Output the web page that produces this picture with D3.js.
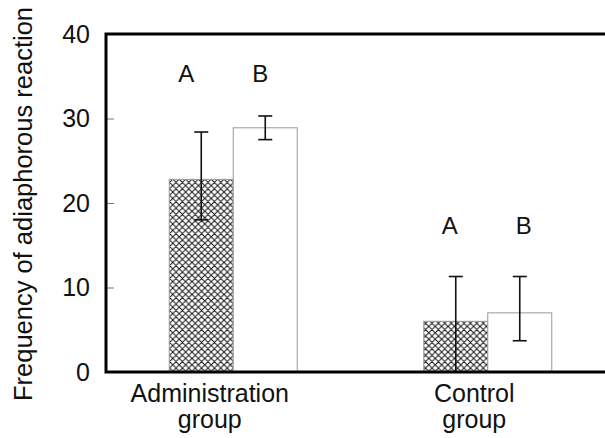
<!DOCTYPE html>
<meta charset="utf-8">
<title>Frequency of adiaphorous reaction</title>
<script src="https://d3js.org/d3.v7.min.js"></script>
<style>
  body { margin: 0; background: #fff; }
  text { font-family: Arial, "Liberation Sans", sans-serif; fill: #111; }
</style>
<body>
<svg width="605" height="438"></svg>
<script>
  // data
  var groups = ["Administration group", "Control group"];
  var groupLines = [["Administration", "group"], ["Control", "group"]];
  var series = ["A", "B"];
  var meanA = [22.8, 6.0];
  var meanB = [28.9, 7.0];
  var lowA = [18.0, 0.0];
  var highA = [28.4, 11.3];
  var lowB = [27.5, 3.7];
  var highB = [30.3, 11.3];
  var yTicks = [0, 10, 20, 30, 40];

  var svg = d3.select("svg"),
    plotL = 106, plotT = 34, plotB = 372, plotR = 605;

  var y = d3.scaleLinear().domain([0, 40]).range([plotB, plotT]);
  var x = d3.scaleBand().domain(groups).range([plotL, 615]);
  var x1 = d3.scaleBand().domain(series).range([-64, 64]);

  var rows = [];
  groups.forEach(function (g, i) {
    rows.push({ g: g, s: "A", v: meanA[i], lo: lowA[i], hi: highA[i], i: i });
    rows.push({ g: g, s: "B", v: meanB[i], lo: lowB[i], hi: highB[i], i: i });
  });

  // cross hatch
  var pat = svg.append("defs").append("pattern")
    .attr("id", "hatch")
    .attr("patternUnits", "userSpaceOnUse")
    .attr("width", 6.4).attr("height", 6.4);
  pat.append("rect").attr("width", 6.4).attr("height", 6.4).attr("fill", "#fff");
  pat.append("path")
    .attr("d", "M0,0L6.4,6.4M6.4,0L0,6.4M-1,5.4L1,7.4M5.4,-1L7.4,1M-1,1L1,-1M5.4,7.4L7.4,5.4")
    .attr("stroke", "#1a1a1a").attr("stroke-width", 1.05);

  function cx(d) { return x(d.g) + x.bandwidth() / 2 + x1(d.s) + x1.bandwidth() / 2; }

  // bars
  svg.selectAll("rect.bar")
    .data(rows)
    .enter().append("rect")
    .attr("class", "bar")
    .attr("x", function (d) { return x(d.g) + x.bandwidth() / 2 + x1(d.s); })
    .attr("y", function (d) { return y(d.v); })
    .attr("width", x1.bandwidth())
    .attr("height", function (d) { return y(0) - y(d.v); })
    .attr("fill", function (d) { return d.s === "A" ? "url(#hatch)" : "#fff"; })
    .attr("stroke", "#999")
    .attr("stroke-width", 1);

  // error bars
  var err = svg.selectAll("g.err")
    .data(rows)
    .enter().append("g")
    .attr("class", "err")
    .attr("stroke", "#111")
    .attr("stroke-width", 1.6);
  err.append("line")
    .attr("x1", cx).attr("x2", cx)
    .attr("y1", function (d) { return y(d.lo); })
    .attr("y2", function (d) { return y(d.hi); });
  err.append("line")
    .attr("x1", function (d) { return cx(d) - 7; })
    .attr("x2", function (d) { return cx(d) + 7; })
    .attr("y1", function (d) { return y(d.hi); })
    .attr("y2", function (d) { return y(d.hi); });
  err.filter(function (d) { return d.lo > 0; }).append("line")
    .attr("x1", function (d) { return cx(d) - 7; })
    .attr("x2", function (d) { return cx(d) + 7; })
    .attr("y1", function (d) { return y(d.lo); })
    .attr("y2", function (d) { return y(d.lo); });

  // A / B letters
  var letterDx = [[-15, -5], [-6, 4]];
  var letterY = [82, 234];
  svg.selectAll("text.letter")
    .data(rows)
    .enter().append("text")
    .attr("class", "letter")
    .attr("x", function (d) { return cx(d) + letterDx[d.i][d.s === "A" ? 0 : 1]; })
    .attr("y", function (d) { return letterY[d.i]; })
    .attr("text-anchor", "middle")
    .style("font-size", "24px")
    .text(function (d) { return d.s; });

  // y axis ticks (inward)
  var yAxis = d3.axisLeft(y).tickValues(yTicks).tickSize(-8).tickPadding(16);
  var ya = svg.append("g").attr("transform", "translate(" + plotL + ",0)").call(yAxis);
  ya.select(".domain").remove();
  ya.selectAll(".tick line").attr("stroke", "#777").attr("stroke-width", 1);
  ya.selectAll(".tick text")
    .style("font-size", "25px")
    .style("font-family", "Arial, 'Liberation Sans', sans-serif")
    .attr("fill", "#111");

  // frame: left, top, bottom
  svg.append("path")
    .attr("d", d3.line()([[plotR, plotT], [plotL, plotT], [plotL, plotB], [plotR, plotB]]))
    .attr("fill", "none")
    .attr("stroke", "#000")
    .attr("stroke-width", 3);

  // group labels
  var labelDx = [-23.5, -13.5];
  var gl = svg.selectAll("text.glabel")
    .data(groups)
    .enter().append("text")
    .attr("class", "glabel")
    .attr("text-anchor", "middle")
    .style("font-size", "25px");
  gl.append("tspan")
    .attr("x", function (d, i) { return x(d) + x.bandwidth() / 2 + labelDx[i]; })
    .attr("y", 402)
    .text(function (d, i) { return groupLines[i][0]; });
  gl.append("tspan")
    .attr("x", function (d, i) { return x(d) + x.bandwidth() / 2 + labelDx[i]; })
    .attr("y", 428)
    .text(function (d, i) { return groupLines[i][1]; });

  // y title
  svg.append("text")
    .attr("transform", "translate(32,204) rotate(-90)")
    .attr("text-anchor", "middle")
    .style("font-size", "25.5px")
    .text("Frequency of adiaphorous reaction");
</script>
</body>
